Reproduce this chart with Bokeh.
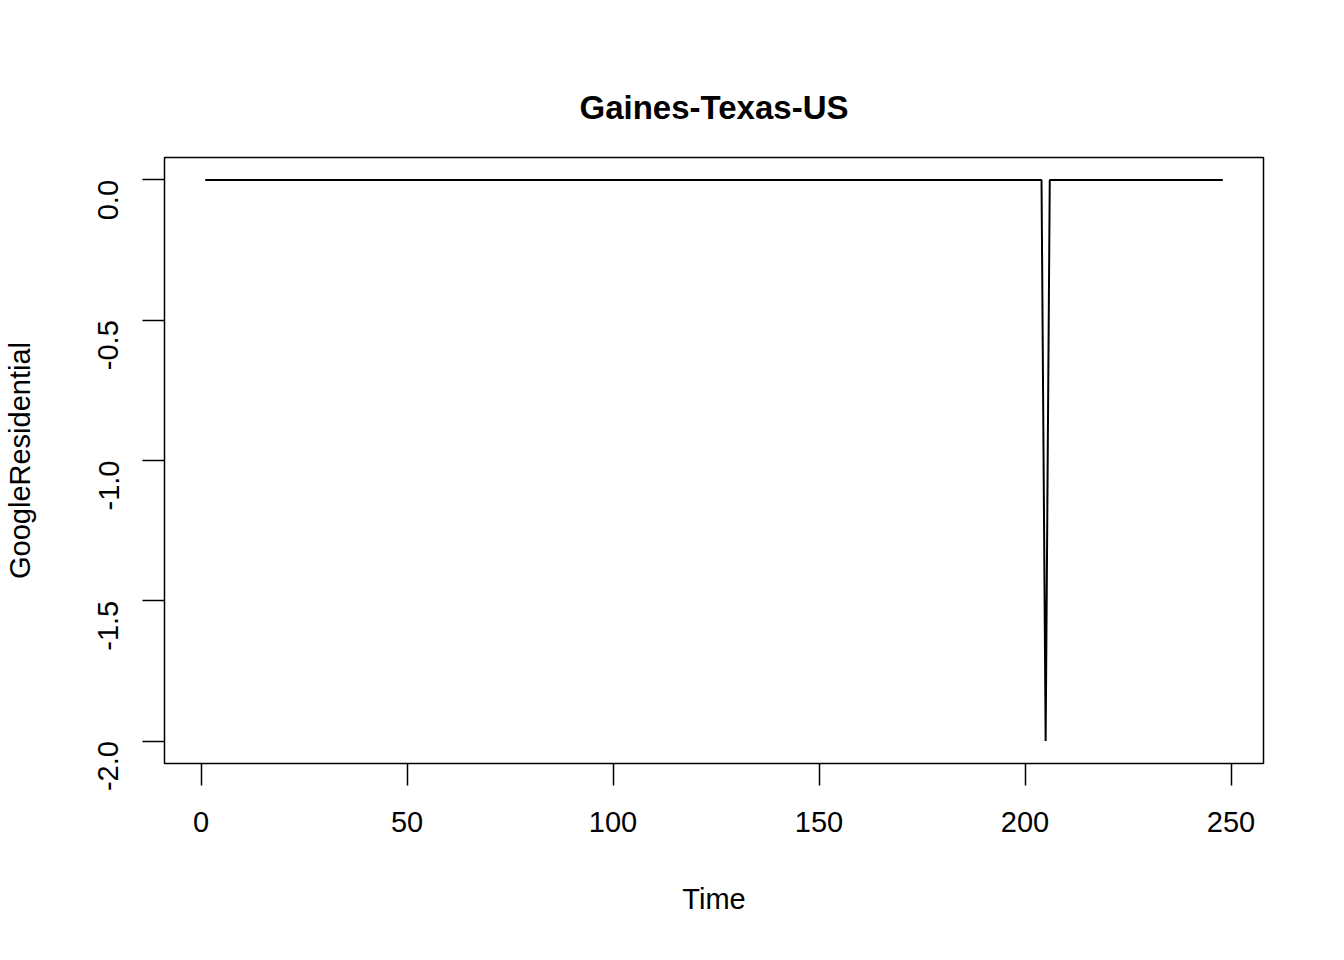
import math
from bokeh.plotting import figure
from bokeh.models import Range1d, FixedTicker, CustomJSTickFormatter, Title
from bokeh.embed import file_html
from bokeh.resources import INLINE

time = list(range(1, 249))
residential = [0.0] * 203 + [0.0, -2.0, 0.0] + [0.0] * 42

x_ticks = [0, 50, 100, 150, 200, 250]
y_ticks = [-2.0, -1.5, -1.0, -0.5, 0.0]

F = "Liberation Sans"
p = figure(width=1328, height=944, output_backend="svg", toolbar_location=None,
           x_range=Range1d(-8.88, 257.88), y_range=Range1d(-2.08, 0.08),
           min_border_left=157, min_border_right=65, min_border_top=157, min_border_bottom=181)
p.title = None
p.add_layout(Title(text="Gaines-Texas-US", align="center", text_font=F, text_font_size="33px",
                   text_font_style="bold", text_color="black", standoff=64), "above")
p.grid.visible = False
p.outline_line_color = "black"
p.outline_line_width = 1.5
p.background_fill_color = "white"
p.border_fill_color = "white"

p.line(time, residential, line_color="black", line_width=2)

for ax in (p.xaxis[0], p.yaxis[0]):
    ax.axis_line_color = None
    ax.major_tick_in = 0
    ax.major_tick_out = 22
    ax.major_tick_line_width = 1.5
    ax.minor_tick_line_color = None
    ax.major_label_text_font = F
    ax.major_label_text_font_size = "29px"
    ax.major_label_text_color = "black"
    ax.axis_label_text_font = F
    ax.axis_label_text_font_size = "29px"
    ax.axis_label_text_font_style = "normal"
    ax.axis_label_text_color = "black"

p.xaxis.ticker = FixedTicker(ticks=x_ticks)
p.yaxis.ticker = FixedTicker(ticks=y_ticks)
p.yaxis.formatter = CustomJSTickFormatter(code="return tick.toFixed(1);")
p.yaxis.major_label_orientation = math.pi / 2
p.xaxis.axis_label = "Time"
p.yaxis.axis_label = "GoogleResidential"
p.xaxis.major_label_standoff = 26
p.xaxis.axis_label_standoff = 48
p.yaxis.major_label_standoff = 34
p.yaxis.axis_label_standoff = 50

open("out.html", "w").write(file_html(p, INLINE))
